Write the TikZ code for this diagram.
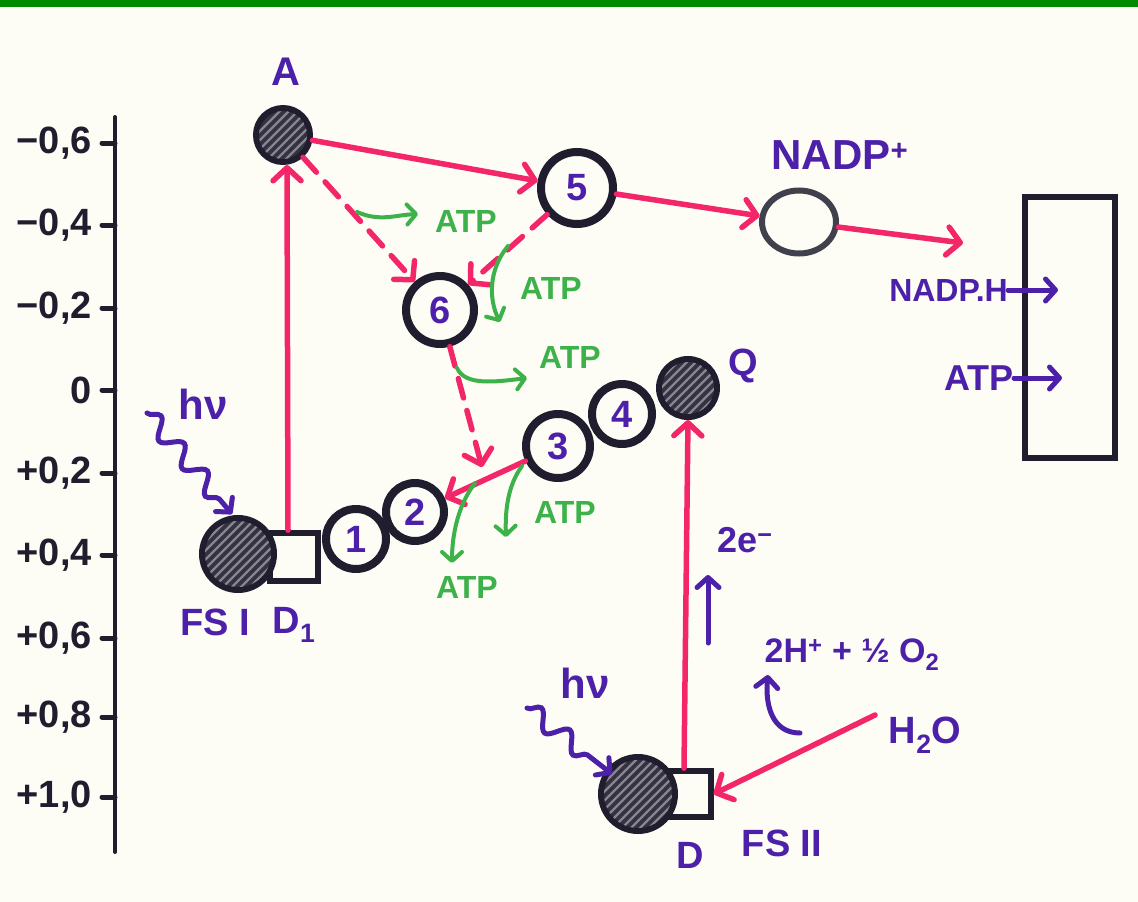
\documentclass[tikz,border=0pt]{standalone}
\usepackage{fontspec}
\setmainfont{Liberation Sans}
\usetikzlibrary{arrows.meta,shapes.geometric,decorations.pathmorphing}
\definecolor{bg}{RGB}{253,253,246}
\definecolor{topgreen}{RGB}{0,138,0}
\definecolor{pinkc}{RGB}{242,38,104}
\definecolor{purp}{RGB}{76,32,168}
\definecolor{grn}{RGB}{62,178,74}
\definecolor{ink}{RGB}{32,30,46}
\definecolor{hatchbg}{RGB}{52,50,64}
\definecolor{hatchln}{RGB}{135,133,145}
\newcommand{\hatchfill}[2]{%
  \begin{scope}[shift={(#1.center)}]
    \clip (0,0) circle[radius=#2pt];
    \foreach \k in {-72,-63,...,72}{\draw[draw=hatchln,line width=2.2pt] (\k-80,80) -- (\k+80,-80);}
  \end{scope}}
\tikzset{
  carrier/.style={circle,draw=ink,line width=8pt,fill=bg,inner sep=0pt,minimum size=#1pt,
    text=purp,font=\bfseries\fontsize{38}{38}\selectfont},
  hatched/.style={circle,draw=ink,line width=6pt,fill=hatchbg,inner sep=0pt,minimum size=#1pt},
  sidebox/.style={rectangle,draw=ink,line width=5.5pt,fill=bg,inner sep=0pt,minimum width=#1pt,minimum height=#1pt},
  flow/.style={draw=pinkc,line width=5.5pt,line cap=round,-{Straight Barb[length=13pt,width=28pt,round]}},
  dflow/.style={flow,dash pattern=on 20pt off 13pt},
  atpflow/.style={draw=grn,line width=4pt,line cap=round,-{Straight Barb[length=9pt,width=20pt,round]}},
  pflow/.style={draw=purp,line width=5pt,line cap=round,-{Straight Barb[length=10pt,width=22pt,round]}},
  wave/.style={pflow,decorate,decoration={snake,amplitude=9pt,segment length=36pt,post length=14pt}},
  lbl/.style={text=purp,inner sep=0pt,font=\bfseries\fontsize{#1}{#1}\selectfont},
  lbl/.default=40,
  glbl/.style={text=grn,inner sep=0pt,font=\bfseries\fontsize{32}{32}\selectfont},
  axlbl/.style={text=ink,inner sep=0pt,anchor=east,font=\bfseries\fontsize{38}{38}\selectfont},
  tick/.style={draw=ink,line width=5pt,line cap=round},
}
\begin{document}
\begin{tikzpicture}[x=1pt,y=-1pt]
\useasboundingbox (0,0) rectangle (1138,902);
\fill[bg] (0,0) rectangle (1138,902);
\fill[topgreen] (0,0) rectangle (1138,7);

% axis
\coordinate (axtop) at (115,117);
\coordinate (axbot) at (115,852);
\draw[draw=ink,line width=4pt,line cap=round] (axtop) -- (axbot);
\foreach \y/\t in {143/{−0,6},225/{−0,4},308/{−0,2},390/{0},473/{+0,2},555/{+0,4},638/{+0,6},717/{+0,8},797/{+1,0}}{
  \draw[tick] (102,\y) -- (115,\y);
  \node[axlbl] at (92,\y) {\t};
}

% carriers
\node[sidebox=48] (d1) at (294,557) {};
\node[hatched=72] (fs1) at (238,554) {};
\hatchfill{fs1}{33}
\node[hatched=54] (A) at (283,135) {};
\hatchfill{A}{24}
\node[carrier=72] (n5) at (577,188) {5};
\node[carrier=68] (n6) at (440,310) {6};
\node[ellipse,draw=ink!85,line width=6pt,fill=bg,inner sep=0pt,minimum width=74pt,minimum height=63pt] (nadp) at (799,222) {};
\node[carrier=60] (c1) at (356,539) {1};
\node[carrier=58] (c2) at (415,512) {2};
\node[carrier=64] (c3) at (558,446) {3};
\node[carrier=60] (c4) at (622,414) {4};
\node[hatched=58] (Q) at (688,388) {};
\hatchfill{Q}{26}
\node[sidebox=46] (d2) at (688,794) {};
\node[hatched=74] (fs2) at (638,794) {};
\hatchfill{fs2}{34}
\node[rectangle,draw=ink,line width=6pt,inner sep=0pt,minimum width=90pt,minimum height=261pt] (box) at (1070,327) {};

% labels
\node[lbl] (lA) at (286,72) {A};
\node[lbl=42] (lnadp) at (840,155) {NADP\textsuperscript{+}};
\node[lbl=38] (lQ) at (743,366) {Q};
\node[lbl=42] (hv1) at (203,404) {hν};
\node[lbl=38] (lfs1) at (215,622) {FS I};
\node[lbl=38] (ld1) at (294,625) {D\textsubscript{1}};
\node[lbl=42] (hv2) at (585,683) {hν};
\node[lbl=38] (lD) at (690,855) {D};
\node[lbl=38] (lfs2) at (782,843) {FS II};
\node[lbl=36] (l2e) at (745,540) {2e\textsuperscript{−}};
\node[lbl=34] (lprod) at (852,655) {2H\textsuperscript{+} + ½ O\textsubscript{2}};
\node[lbl=38] (lh2o) at (925,735) {H\textsubscript{2}O};
\node[lbl=32,anchor=east] (nadph) at (1008,290) {NADP.H};
\node[lbl=36,anchor=east] (atpr) at (1014,378) {ATP};

\node[glbl] (g1) at (466,221) {ATP};
\node[glbl] (g2) at (551,288) {ATP};
\node[glbl] (g3) at (570,357) {ATP};
\node[glbl] (g4) at (565,512) {ATP};
\node[glbl] (g5) at (467,587) {ATP};

% free ends
\coordinate (out) at (963,243);
\coordinate (meet) at (482,467);
\coordinate (h2os) at (875,715);
\coordinate (nadphend) at (1058,290);
\coordinate (atpend) at (1062,378);
\coordinate (e1) at (708,643);
\coordinate (e2) at (708,575);

% pink electron flow
\draw[flow] ([xshift=-6pt]d1.north) -- ([xshift=4pt]A.south);
\draw[flow] (A) -- (n5);
\draw[flow] (n5) -- (nadp);
\draw[flow] (nadp) -- (out);
\draw[dflow] (A) -- (n6);
\draw[dflow] (n5) -- (n6);
\draw[dflow] (n6) -- (meet);
\draw[flow] (c3) -- (c2);
\draw[flow] ([xshift=-4pt]d2.north) -- (Q.south);
\draw[flow] (h2os) -- (d2.east);

% green ATP arrows
\draw[atpflow] (357,212) .. controls (380,222) and (395,215) .. (418,214);
\draw[atpflow] (508,246) .. controls (488,270) and (489,300) .. (500,322);
\draw[atpflow] (457,368) .. controls (465,386) and (495,382) .. (527,378);
\draw[atpflow] (522,466) .. controls (508,485) and (505,510) .. (506,537);
\draw[atpflow] (475,483) .. controls (458,505) and (452,535) .. (452,563);

% purple arrows
\draw[wave] (147,413) -- (232,514);
\draw[wave] (527,708) -- (612,774);
\draw[pflow] (e1) -- (e2);
\draw[pflow] (800,733) .. controls (772,733) and (765,705) .. (768,675);
\draw[pflow] (nadph.east) -- (nadphend);
\draw[pflow] (atpr.east) -- (atpend);
\end{tikzpicture}
\end{document}
